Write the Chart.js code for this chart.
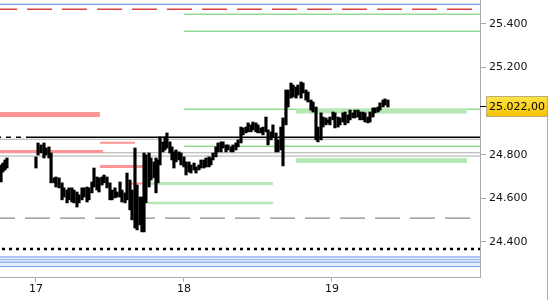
<!DOCTYPE html>
<html>
<head>
<meta charset="utf-8">
<script src="https://cdn.jsdelivr.net/npm/chart.js@4/dist/chart.umd.min.js"></script>
<style>
  html, body { margin: 0; padding: 0; background: #fff; }
  #wrap { width: 550px; height: 300px; position: relative; }
</style>
</head>
<body>
<div id="wrap"><canvas id="chart"></canvas></div>
<script>
// bars (time in days, high / low in index points)
const barTimes = [
  16.764, 16.777, 16.791, 16.804,
  17.000, 17.014, 17.034, 17.054, 17.068, 17.088, 17.102, 17.122, 17.135, 17.156,
  17.176, 17.189, 17.210, 17.223, 17.243, 17.257, 17.277, 17.291, 17.311, 17.325,
  17.345, 17.358, 17.378, 17.392, 17.412, 17.426, 17.446, 17.460, 17.480, 17.500,
  17.514, 17.534, 17.548, 17.568, 17.581, 17.602, 17.615, 17.635, 17.649, 17.669,
  17.683, 17.703, 17.716, 17.730, 17.743, 17.764, 17.777, 17.798, 17.811, 17.824,
  17.838, 17.858, 17.872, 17.885, 17.905, 17.919, 17.932, 17.946, 17.966, 17.980,
  18.000, 18.014, 18.034, 18.047, 18.068, 18.081, 18.101, 18.115, 18.135, 18.149,
  18.169, 18.182, 18.196, 18.216, 18.230, 18.250, 18.264, 18.284, 18.297, 18.318,
  18.331, 18.351, 18.365, 18.385, 18.399, 18.419, 18.433, 18.453, 18.466, 18.486,
  18.500, 18.520, 18.534, 18.554, 18.568, 18.588, 18.601, 18.622, 18.635, 18.655,
  18.669, 18.689, 18.703, 18.723, 18.737, 18.757, 18.770, 18.791, 18.804, 18.824,
  18.838, 18.858, 18.872, 18.892, 18.905, 18.926, 18.939, 18.959, 18.973, 18.986,
  19.007, 19.020, 19.041, 19.054, 19.074, 19.088, 19.108, 19.122, 19.142, 19.155,
  19.176, 19.189, 19.209, 19.223, 19.243, 19.257, 19.277, 19.291, 19.311, 19.324,
  19.345, 19.358, 19.378
];
const barHigh = [
  24753, 24762, 24776, 24785,
  24790, 24854, 24845, 24854, 24831, 24836, 24808, 24694, 24698, 24694,
  24671, 24648, 24638, 24648, 24648, 24638, 24629, 24616, 24648, 24648,
  24652, 24648, 24675, 24739, 24698, 24694, 24698, 24707, 24698, 24671,
  24638, 24648, 24629, 24675, 24638, 24625, 24716, 24684, 24638, 24831,
  24661, 24606, 24606, 24808, 24799, 24808, 24785, 24767, 24785, 24776,
  24882, 24859, 24882, 24900, 24859, 24836, 24813, 24822, 24813, 24808,
  24790, 24767, 24767, 24753, 24762, 24744, 24753, 24776, 24776, 24785,
  24790, 24785, 24808, 24836, 24854, 24859, 24859, 24845, 24845, 24836,
  24845, 24854, 24868, 24927, 24923, 24927, 24946, 24937, 24950, 24946,
  24937, 24923, 24927, 24973, 24914, 24905, 24937, 24900, 24868, 24927,
  24969, 25097, 25097, 25129, 25120, 25111, 25120, 25134, 25129, 25097,
  25088, 25051, 25042, 25019, 24927, 24992, 24973, 24969, 24960, 24973,
  24996, 24992, 24973, 24969, 24992, 24996, 24983, 25005, 24992, 25005,
  25005, 24996, 24996, 24992, 24973, 24996, 25015, 25015, 25019, 25038,
  25051, 25056, 25051
];
const barLow = [
  24675, 24721, 24730, 24739,
  24739, 24799, 24808, 24785, 24799, 24785, 24671, 24671, 24652, 24648,
  24593, 24606, 24579, 24593, 24583, 24579, 24560, 24579, 24593, 24606,
  24583, 24593, 24625, 24652, 24638, 24629, 24661, 24671, 24648, 24593,
  24593, 24602, 24606, 24606, 24583, 24579, 24593, 24547, 24501, 24464,
  24455, 24478, 24446, 24446, 24579, 24652, 24684, 24694, 24625, 24671,
  24753, 24813, 24822, 24831, 24808, 24776, 24739, 24767, 24776, 24753,
  24744, 24707, 24721, 24716, 24730, 24716, 24730, 24739, 24739, 24744,
  24744, 24753, 24776, 24790, 24813, 24813, 24831, 24813, 24822, 24813,
  24813, 24822, 24836, 24854, 24891, 24900, 24905, 24905, 24914, 24905,
  24900, 24900, 24891, 24905, 24845, 24868, 24882, 24813, 24813, 24822,
  24749, 24937, 25019, 25060, 25065, 25060, 25074, 25060, 25083, 25051,
  25042, 25005, 24996, 24868, 24859, 24868, 24927, 24937, 24946, 24937,
  24960, 24923, 24927, 24937, 24950, 24937, 24946, 24960, 24969, 24969,
  24973, 24960, 24960, 24950, 24946, 24950, 24973, 24992, 24996, 25005,
  25019, 25028, 25019
];

// horizontal levels: price, from / to (days)
const levelPrice = [24809, 24794, 24871, 24309, 24331, 24319, 24307, 24287,
  25490, 25467, 25445, 25367, 25009, 24999, 24985, 24880, 24880, 24855,
  24839, 24815, 24774, 24746, 24668, 24668, 24578, 24509, 24368];
const levelFrom = [16.757, 16.757, 16.757, 16.757, 16.757, 16.757, 16.757, 16.757,
  16.757, 16.757, 18.0, 18.0, 18.0, 18.757, 16.757, 16.757, 16.966, 17.432,
  18.0, 16.757, 18.757, 17.432, 17.757, 17.635, 17.757, 16.757, 16.757];
const levelTo = [20, 20, 20, 20, 20, 20, 20, 20,
  20, 20, 20, 20, 20, 19.912, 17.432, 16.966, 20, 17.669,
  20, 17.453, 19.912, 17.730, 18.601, 17.730, 18.601, 20, 20];

const dayTicks = [17, 18, 19];
const priceTicks = [24400, 24600, 24800, 25200, 25400];
const lastPrice = 25022;

// looks for each level, same order as levelPrice
const gray = "#ababab", pink = "#ff9494", lgreen = "#b6e8b6", green = "#5cc85c", blue = "#6f9cf0";
const levelStyle = [
  [gray, 1], [gray, 1], [gray, 1], ["#e6edfc", 10], [blue, 1], ["#9dbcf5", 1], [blue, 1], [blue, 1],
  [blue, 1.2], ["#d8453d", 1.5, [25, 10], 8], [green, 1], [green, 1], [green, 1], [lgreen, 4.5],
  [pink, 5], ["#000", 1.5, [5, 5], 4], ["#000", 1.5], [pink, 2],
  [green, 1], [pink, 3], [lgreen, 5], [pink, 3], [lgreen, 3], [pink, 2], [lgreen, 2.5],
  ["#8c8c8c", 1.3, [25, 10], 10], ["#000", 2.5, [3, 4], 5]
];

const FONT = { family: "'DejaVu Sans', sans-serif", size: 11 };

const levelSets = levelPrice.map((p, i) => {
  const st = levelStyle[i];
  return {
    type: "line",
    data: [{ x: levelFrom[i], y: p }, { x: levelTo[i], y: p }],
    borderColor: st[0],
    borderWidth: st[1],
    borderDash: st[2] || [],
    borderDashOffset: st[3] || 0,
    borderCapStyle: "butt",
    pointRadius: 0,
    fill: false,
    order: 100 - i,
  };
});

const priceBox = {
  id: "priceBox",
  afterDraw(chart) {
    const { ctx, chartArea } = chart;
    const y = Math.round(chart.scales.y.getPixelForValue(lastPrice));
    ctx.save();
    ctx.strokeStyle = "#000";
    ctx.lineWidth = 1;
    ctx.beginPath();
    ctx.moveTo(chartArea.right, y + 0.5);
    ctx.lineTo(chartArea.right + 6, y + 0.5);
    ctx.stroke();
    const g = ctx.createLinearGradient(0, y - 10, 0, y + 10);
    g.addColorStop(0, "#ffe44a");
    g.addColorStop(1, "#f6c200");
    ctx.fillStyle = g;
    ctx.fillRect(486, y - 10, 62, 21);
    ctx.strokeStyle = "#b9ad78";
    ctx.strokeRect(486.5, y - 9.5, 61, 20);
    ctx.fillStyle = "#000";
    ctx.font = "11px 'DejaVu Sans', sans-serif";
    ctx.textBaseline = "middle";
    ctx.fillText(lastPrice.toLocaleString("de-DE", { minimumFractionDigits: 2 }), 489, y + 1.5);
    // side border
    ctx.strokeStyle = "#b0b0b0";
    ctx.beginPath();
    ctx.moveTo(547.5, y + 11);
    ctx.lineTo(547.5, 300);
    ctx.stroke();
    ctx.restore();
  },
};

new Chart(document.getElementById("chart"), {
  type: "bar",
  data: {
    datasets: [
      {
        type: "bar",
        data: barTimes.map((t, i) => ({ x: t, y: [barLow[i], barHigh[i]] })),
        backgroundColor: "#000",
        borderWidth: 0,
        barThickness: 2.5,
        order: 0,
      },
      ...levelSets,
    ],
  },
  options: {
    responsive: true,
    maintainAspectRatio: false,
    animation: false,
    devicePixelRatio: 1,
    layout: { padding: 0 },
    plugins: { legend: { display: false }, tooltip: { enabled: false } },
    scales: {
      x: {
        type: "linear",
        offset: false,
        min: 16.757,
        max: 20,
        grid: { offset: false, drawOnChartArea: false, color: "#aaa", tickLength: 5 },
        border: { color: "#aaa" },
        ticks: { color: "#111", font: FONT, padding: 1, maxRotation: 0, callback: v => String(v) },
        afterBuildTicks: s => { s.ticks = dayTicks.map(v => ({ value: v })); },
        afterFit: s => { s.height = 23; s.paddingLeft = 0; s.paddingRight = 0; },
      },
      y: {
        position: "right",
        min: 24239,
        max: 25510,
        grid: { drawOnChartArea: false, color: "#aaa", tickLength: 6 },
        border: { color: "#aaa" },
        ticks: { color: "#111", font: FONT, padding: 3, callback: v => v.toLocaleString("de-DE") },
        afterBuildTicks: s => { s.ticks = priceTicks.map(v => ({ value: v })); },
        afterFit: s => { s.width = 70; s.paddingTop = 0; s.paddingBottom = 0; },
      },
    },
  },
  plugins: [priceBox],
});
</script>
</body>
</html>
